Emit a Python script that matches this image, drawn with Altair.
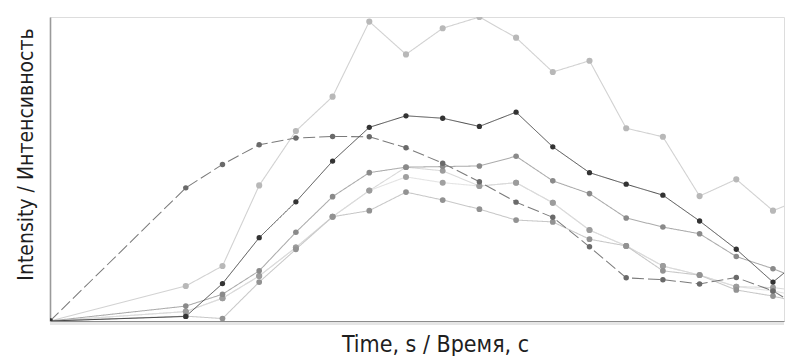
import altair as alt
import pandas as pd

# time stamps (s)
times = [0, 3.7, 4.7, 5.7, 6.7, 7.7, 8.7, 9.7, 10.7, 11.7, 12.7,
         13.7, 14.7, 15.7, 16.7, 17.7, 18.7, 19.7, 20.7]

# intensity series (relative units)
series_a = [0, 11.5, 18.1, 44.6, 62.5, 73.8, 98.5, 87.7, 96.3, 100.0, 93.2,
            81.9, 85.6, 63.4, 60.6, 41.1, 46.6, 36.3, 41.1]
series_b = [0, 1.5, 12.3, 27.4, 39.2, 52.6, 63.7, 67.5, 66.7, 64.0, 68.7,
            57.3, 48.8, 45.0, 41.4, 32.9, 23.6, 12.8, 22.7]
series_c = [0, 43.8, 51.5, 58.0, 60.2, 60.7, 60.6, 57.0, 51.9, 45.8, 39.1,
            34.1, 24.4, 14.2, 13.6, 12.2, 14.3, 9.9, 2.6]
series_d = [0, 4.9, 8.8, 16.5, 29.2, 40.9, 48.8, 50.6, 50.8, 51.0, 54.2,
            46.1, 41.9, 33.9, 30.9, 28.7, 21.2, 17.2, 12.5]
series_e = [0, 3.1, 7.5, 14.8, 24.2, 34.3, 42.9, 47.4, 45.5, 44.4, 45.5,
            38.9, 29.9, 24.7, 18.1, 15.1, 11.3, 9.9, 7.5]
series_f = [0, 1.6, 0.8, 12.8, 23.6, 34.3, 36.3, 42.4, 39.8, 36.8, 33.2,
            32.6, 26.9, 24.7, 16.5, 15.1, 10.2, 8.2, 5.3]
series_g = [0, 3.1, 7.5, 14.8, 24.2, 34.3, 42.9, 50.6, 49.4, 44.4, 45.5,
            38.9, 29.9, 24.7, 18.1, 15.1, 11.3, 11.0, 9.5]

names = ["A", "E", "G", "F", "D", "C", "B"]
values = {"A": series_a, "E": series_e, "G": series_g, "F": series_f,
          "D": series_d, "C": series_c, "B": series_b}

rows = []
for n in names:
    for t, v in zip(times, values[n]):
        rows.append({"t": t, "v": v, "s": n})
df = pd.DataFrame(rows)

line_colors = ["#d2d2d2", "#e4e4e4", "#dadada", "#c8c8c8", "#ababab", "#7a7a7a", "#484848"]
point_colors = ["#b8b8b8", "#a0a0a0", "#9c9c9c", "#929292", "#8a8a8a", "#6a6a6a", "#333333"]
line_widths = [1.1, 1, 1, 1.1, 1.4, 1.3, 1.3]
dashes = [[1, 0], [1, 0], [1, 0], [1, 0], [1, 0], [12, 4], [1, 0]]
point_sizes = [38, 28, 28, 30, 34, 42, 52]

W, H = 734, 304
xs = alt.Scale(domain=[0, 20], nice=False, zero=False)
ys = alt.Scale(domain=[0, 100], nice=False)

title_font = "DejaVu Sans Condensed, DejaVu Sans, sans-serif"

x_enc = alt.X("t:Q", scale=xs,
              axis=alt.Axis(title="Time, s / Время, с", labels=False, ticks=False,
                            grid=False, domainColor="#8c8c8c", domainWidth=1.2,
                            titleFont=title_font, titleFontSize=23,
                            titleFontWeight="normal", titleColor="#1e1e1e",
                            titlePadding=12, titleX=385))
y_enc = alt.Y("v:Q", scale=ys,
              axis=alt.Axis(title="Intensity / Интенсивность", labels=False, ticks=False,
                            grid=False, domainColor="#9a9a9a", domainWidth=1.6,
                            titleFont=title_font, titleFontSize=21,
                            titleFontWeight="normal", titleColor="#1e1e1e",
                            titlePadding=14, titleY=137))

band = alt.Chart(df).mark_rule(color="#e6e6e6", strokeWidth=3).encode(
    x=alt.value(0), x2=alt.value(W), y=alt.value(H + 2.5))

lines = alt.Chart(df).mark_line(clip=True).encode(
    x=x_enc, y=y_enc,
    color=alt.Color("s:N", scale=alt.Scale(domain=names, range=line_colors), legend=None),
    strokeWidth=alt.StrokeWidth("s:N", scale=alt.Scale(domain=names, range=line_widths), legend=None),
    strokeDash=alt.StrokeDash("s:N", scale=alt.Scale(domain=names, range=dashes), legend=None),
    order=alt.Order("t:Q"),
)

points = alt.Chart(df).mark_circle(clip=True, opacity=1).encode(
    x=alt.X("t:Q", scale=xs), y=alt.Y("v:Q", scale=ys),
    color=alt.Color("s:N", scale=alt.Scale(domain=names, range=point_colors), legend=None),
    size=alt.Size("s:N", scale=alt.Scale(domain=names, range=point_sizes), legend=None),
)

chart = alt.layer(band, lines, points).resolve_scale(
    color="independent", size="independent"
).properties(
    width=W, height=H,
    padding={"left": 6, "top": 9, "right": 0, "bottom": 0},
).configure_view(stroke=None).configure(background="white")

chart.save("out.html", embed_options={"renderer": "svg", "actions": False})
